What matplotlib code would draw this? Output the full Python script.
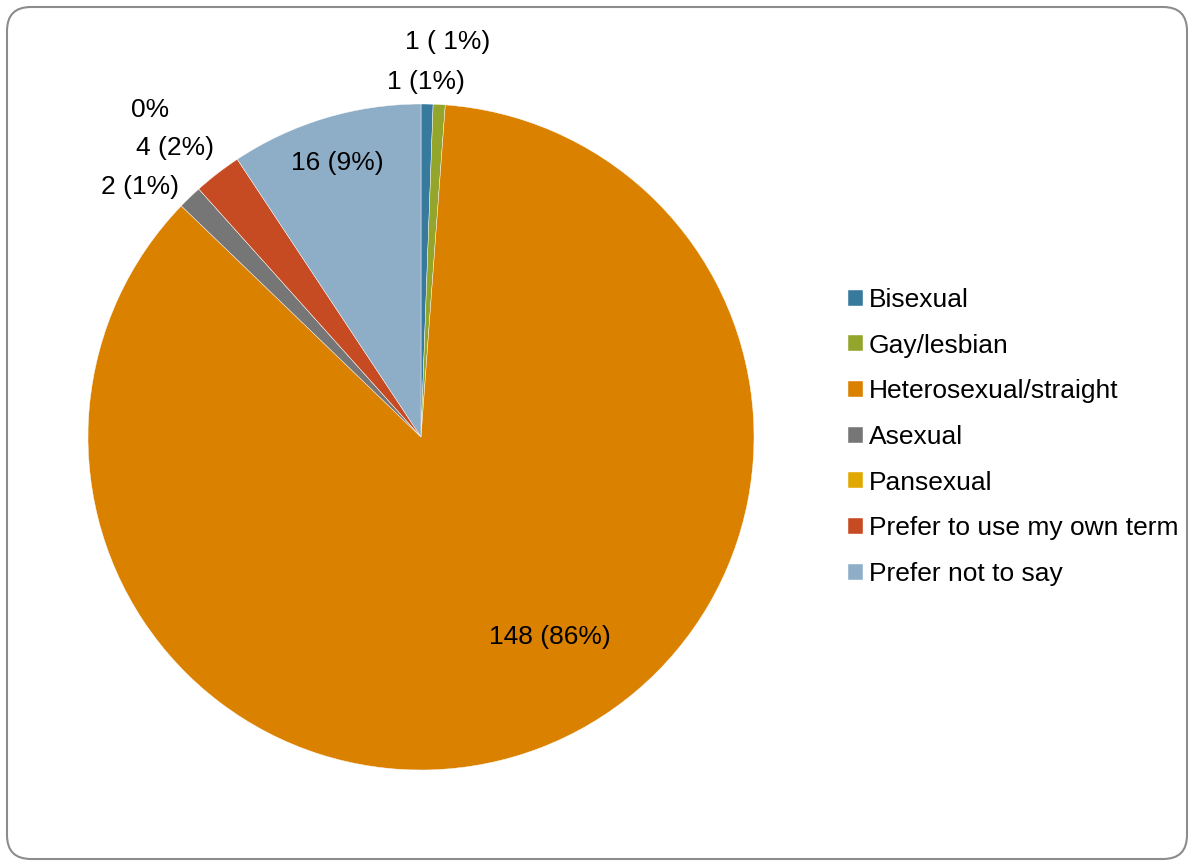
import matplotlib.pyplot as plt
from matplotlib.patches import FancyBboxPatch

plt.rcParams['font.family'] = ['Liberation Sans', 'DejaVu Sans']

categories = ['Bisexual', 'Gay/lesbian', 'Heterosexual/straight', 'Asexual',
              'Pansexual', 'Prefer to use my own term', 'Prefer not to say']
counts = [1, 1, 148, 2, 0, 4, 16]
label_texts = ['1 ( 1%)', '1 (1%)', '148 (86%)', '2 (1%)', '0%', '4 (2%)', '16 (9%)']
colors = ['#377A9E', '#93A52A', '#DB8100', '#767676', '#E0A800', '#C64A22', '#8EAEC8']

# label positions in pie data units (radius 1)
label_pos = [(0.081, 1.186), (0.015, 1.066), (0.387, -0.60), (-0.844, 0.751),
             (-0.814, 0.982), (-0.739, 0.868), (-0.252, 0.823)]

W, H = 1196, 866
fig = plt.figure(figsize=(W / 100, H / 100), dpi=100)

# rounded frame
frame = FancyBboxPatch((7 / W, 7 / H), 1180 / W, 852 / H,
                       boxstyle="round,pad=0,rounding_size=0.02",
                       transform=fig.transFigure, facecolor='white',
                       edgecolor='#8C8C8C', linewidth=1.5, mutation_aspect=W / H,
                       zorder=-5)
fig.patches.append(frame)

ax = fig.add_axes([88 / W, 96 / H, 666 / W, 666 / H])
ax.set_zorder(1)
wedges, _ = ax.pie(counts, colors=colors, startangle=90, counterclock=False,
                   wedgeprops=dict(edgecolor='white', linewidth=0.3))
ax.set_xlim(-1, 1)
ax.set_ylim(-1, 1)
ax.set_aspect('equal')

for txt, (x, y) in zip(label_texts, label_pos):
    ax.text(x, y, txt, ha='center', va='center', fontsize=19, color='black',
            clip_on=False)

leg = fig.legend(wedges, categories, loc='center left',
                 bbox_to_anchor=(848 / W, 1 - 437 / H), frameon=False,
                 fontsize=19, handlelength=0.55, handleheight=0.55,
                 handletextpad=0.25, labelspacing=0.82, borderpad=0,
                 borderaxespad=0)
leg.set_zorder(2)

fig.savefig('out.png', dpi=100)
